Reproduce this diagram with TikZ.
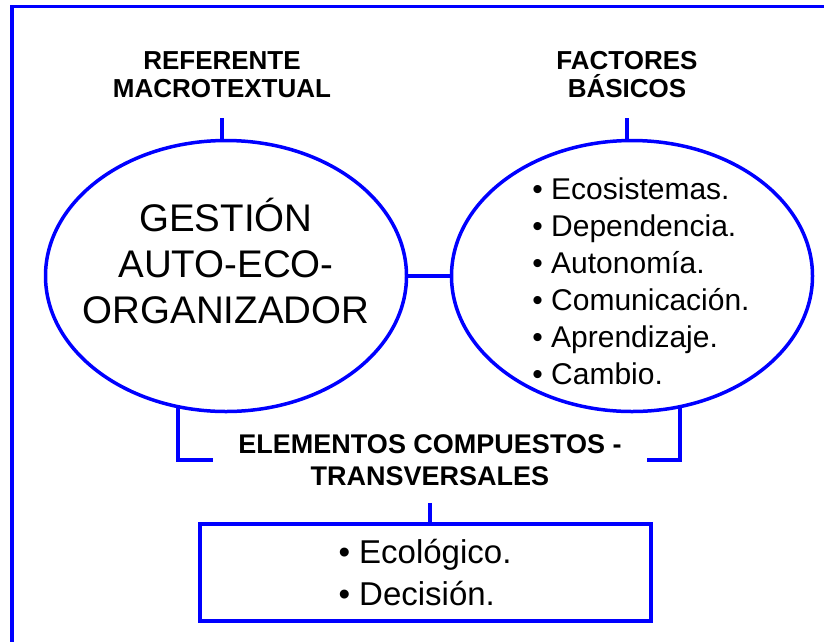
\documentclass[tikz,border=0pt]{standalone}
\usepackage{fontspec}
\setmainfont{Liberation Sans}
\usetikzlibrary{shapes.geometric}

\begin{document}
\begin{tikzpicture}[x=1pt,y=-1pt,
	oval/.style={draw=blue, line width=3.5pt, ellipse, minimum width=361pt, minimum height=271pt, inner sep=0pt},
	head/.style={font=\bfseries\fontsize{26}{28}\selectfont, align=center, inner ysep=20pt},
	link/.style={draw=blue, line width=4pt}]
		\useasboundingbox (0,0) rectangle (824,641);
		\draw[blue, line width=3.5pt] (12,6.5) rectangle (830,660);
		\node[head] (ref) at (222,75) {REFERENTE\\MACROTEXTUAL};
		\node[head] (fac) at (627,75) {FACTORES\\BÁSICOS};
		\node[oval] (gest) at (226,276) {};
		\node[oval] (fact) at (632,276) {};
		\node[align=center, font=\fontsize{38.5}{46}\selectfont] (gesttxt) at (226,261) {GESTIÓN\\AUTO-ECO-\\ORGANIZADOR};
		\node[align=left, font=\fontsize{30}{37}\selectfont] (facttxt) at (641,281) {• Ecosistemas.\\• Dependencia.\\• Autonomía.\\• Comunicación.\\• Aprendizaje.\\• Cambio.};
		\node[align=center, font=\bfseries\fontsize{27}{32}\selectfont, inner xsep=25pt, inner ysep=17pt] (elem) at (430,460) {ELEMENTOS COMPUESTOS -\\TRANSVERSALES};
		\node[draw=blue, line width=4pt, minimum width=451pt, minimum height=97pt, align=left, font=\fontsize{33}{42}\selectfont] (box) at (425,572.5) {• Ecológico.\\• Decisión.};
		\draw[link] (ref.south) -- (ref.south |- gest.north);
		\draw[link] (fac.south) -- (fac.south |- fact.north);
		\draw[link] (gest.east) -- (fact.west);
		\draw[link] (gest.250) -- (gest.250 |- elem.west) -- (elem.west);
		\draw[link] (fact.290) -- (fact.290 |- elem.east) -- (elem.east);
		\draw[link] (elem.south) -- (elem.south |- box.north);
\end{tikzpicture}
\end{document}
